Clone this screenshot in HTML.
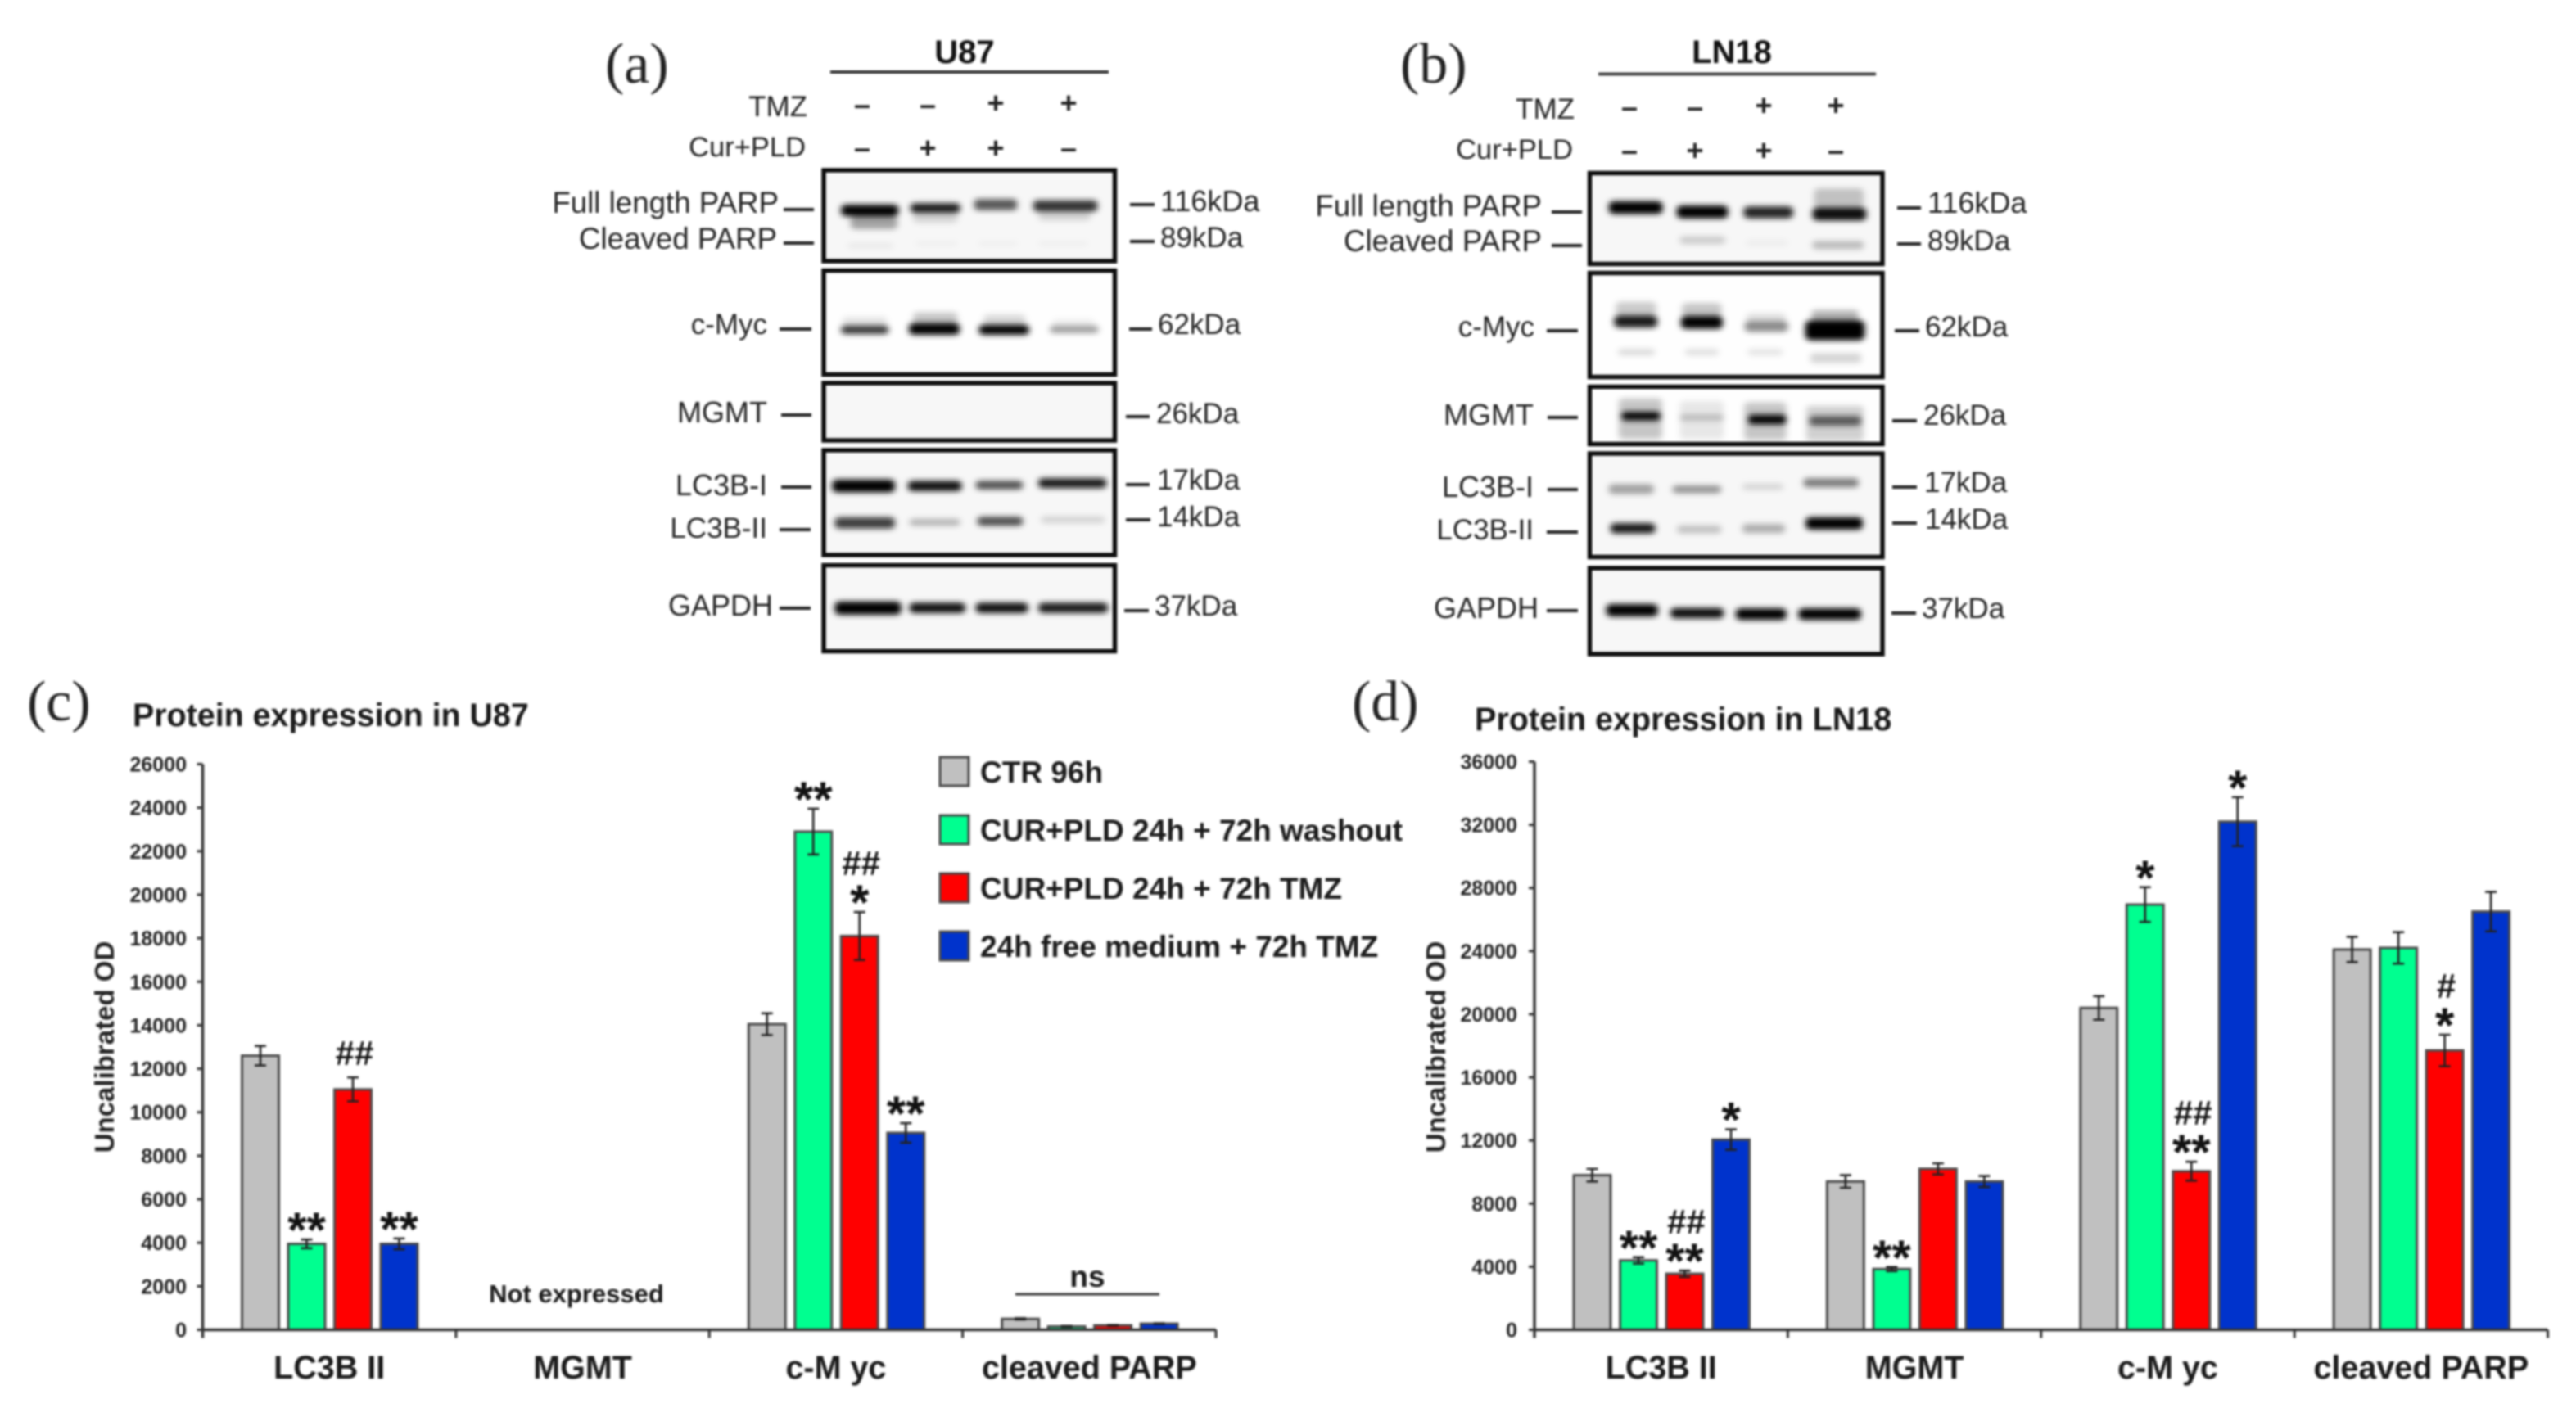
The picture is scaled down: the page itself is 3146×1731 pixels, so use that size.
<!DOCTYPE html>
<html lang="en">
<head>
<meta charset="utf-8">
<title>Protein expression in U87 and LN18</title>
<style>
html,body{margin:0;padding:0;background:#fff;}
#figure{display:block;width:3146px;height:1731px;filter:blur(1.25px);font-family:"Liberation Sans",Arial,sans-serif;}
.lbl{font-size:35px;fill:#222;}
.big{font-size:36.7px;}
.mid{font-size:36px;}
.sm{font-size:34.5px;}
.sign{font-size:36px;font-weight:bold;fill:#222;text-anchor:middle;}
.panel{font-family:"Liberation Serif",serif;font-size:70px;fill:#222;}
.head{font-size:40px;font-weight:bold;fill:#111;}
.tick{stroke:#222;stroke-width:4;}
.frame{fill:#f7f7f7;stroke:#0c0c0c;stroke-width:5.5;}
.white{fill:#fefefe;}
.e{fill:#000;}
</style>
</head>
<body>
<svg id="figure" xmlns="http://www.w3.org/2000/svg" width="3146" height="1731" viewBox="0 0 3146 1731">
<defs>
<filter id="bandBlur" x="-10%" y="-10%" width="120%" height="120%"><feGaussianBlur stdDeviation="6 6.5"/></filter>
</defs>
<rect x="0" y="0" width="3146" height="1731" fill="#fff"/>

<!-- PANEL A -->
<g>
<text class="panel" x="739" y="101">(a)</text>
<text class="head" x="1178" y="77" text-anchor="middle">U87</text>
<line x1="1014" y1="88" x2="1354" y2="88" stroke="#222" stroke-width="3.5"/>
<text class="lbl" x="986" y="142" text-anchor="end">TMZ</text>
<text class="lbl sm" x="984" y="191" text-anchor="end">Cur+PLD</text>
<text class="sign" x="1053" y="140">–</text>
<text class="sign" x="1133" y="140">–</text>
<text class="sign" x="1216" y="138">+</text>
<text class="sign" x="1305" y="138">+</text>
<text class="sign" x="1053" y="193">–</text>
<text class="sign" x="1133" y="193">+</text>
<text class="sign" x="1216" y="193">+</text>
<text class="sign" x="1305" y="193">–</text>

<rect class="frame" x="1006" y="208" width="355.5" height="111"/>
<rect class="frame white" x="1006" y="330.5" width="355.5" height="127"/>
<rect class="frame" x="1006" y="468" width="355.5" height="70"/>
<rect class="frame" x="1006" y="550" width="355.5" height="128"/>
<rect class="frame" x="1006" y="690.5" width="355.5" height="105"/>

<g transform="translate(640,0) scale(.6378,.523)" filter="url(#bandBlur)">
<rect class="e" x="607" y="478" width="110" height="27" rx="10" fill-opacity="1"/>
<rect class="e" x="625" y="505" width="90" height="30" rx="10" fill-opacity=".35"/>
<rect class="e" x="740" y="475" width="95" height="22" rx="8" fill-opacity=".9"/>
<rect class="e" x="745" y="497" width="85" height="23" rx="8" fill-opacity=".15"/>
<rect class="e" x="862" y="465" width="82" height="26" rx="8" fill-opacity=".65"/>
<rect class="e" x="975" y="468" width="123" height="26" rx="8" fill-opacity=".8"/>
<rect class="e" x="985" y="494" width="100" height="21" rx="8" fill-opacity=".15"/>
<rect class="e" x="620" y="568" width="87" height="12" rx="5" fill-opacity=".06"/>
<rect class="e" x="750" y="564" width="80" height="10" rx="5" fill-opacity=".04"/>
<rect class="e" x="870" y="564" width="75" height="10" rx="5" fill-opacity=".04"/>
<rect class="e" x="985" y="564" width="95" height="10" rx="5" fill-opacity=".04"/>

<rect class="e" x="607" y="761" width="91" height="19" rx="8" fill-opacity=".8"/>
<rect class="e" x="610" y="740" width="85" height="21" rx="8" fill-opacity=".1"/>
<rect class="e" x="737" y="755" width="97" height="27" rx="9" fill-opacity="1"/>
<rect class="e" x="745" y="730" width="85" height="25" rx="8" fill-opacity=".22"/>
<rect class="e" x="871" y="759" width="96" height="23" rx="9" fill-opacity="1"/>
<rect class="e" x="880" y="735" width="80" height="24" rx="8" fill-opacity=".15"/>
<rect class="e" x="1007" y="761" width="93" height="17" rx="7" fill-opacity=".38"/>
<rect class="e" x="1012" y="745" width="80" height="16" rx="7" fill-opacity=".06"/>

<rect class="e" x="590" y="1120" width="120" height="30" rx="10" fill-opacity="1"/>
<rect class="e" x="735" y="1123" width="103" height="24" rx="9" fill-opacity=".95"/>
<rect class="e" x="865" y="1123" width="90" height="20" rx="8" fill-opacity=".7"/>
<rect class="e" x="985" y="1117" width="130" height="23" rx="8" fill-opacity=".9"/>
<rect class="e" x="595" y="1208" width="115" height="27" rx="9" fill-opacity=".75"/>
<rect class="e" x="738" y="1212" width="97" height="16" rx="7" fill-opacity=".28"/>
<rect class="e" x="868" y="1207" width="87" height="21" rx="8" fill-opacity=".7"/>
<rect class="e" x="990" y="1206" width="122" height="16" rx="7" fill-opacity=".15"/>

<rect class="e" x="595" y="1405" width="127" height="31" rx="10" fill-opacity="1"/>
<rect class="e" x="738" y="1408" width="107" height="24" rx="9" fill-opacity=".95"/>
<rect class="e" x="865" y="1408" width="100" height="24" rx="9" fill-opacity=".95"/>
<rect class="e" x="985" y="1408" width="133" height="24" rx="9" fill-opacity=".9"/>
</g>

<text class="lbl big" x="951" y="260" text-anchor="end">Full length PARP</text>
<line class="tick" x1="957" y1="256" x2="994" y2="256"/>
<text class="lbl big" x="949" y="304" text-anchor="end">Cleaved PARP</text>
<line class="tick" x1="957" y1="297" x2="994" y2="297"/>
<text class="lbl" x="937" y="408" text-anchor="end">c-Myc</text>
<line class="tick" x1="952" y1="402" x2="991" y2="402"/>
<text class="lbl mid" x="937" y="516" text-anchor="end">MGMT</text>
<line class="tick" x1="954" y1="507" x2="991" y2="507"/>
<text class="lbl mid" x="937" y="605" text-anchor="end">LC3B-I</text>
<line class="tick" x1="954" y1="595" x2="991" y2="595"/>
<text class="lbl" x="937" y="657" text-anchor="end">LC3B-II</text>
<line class="tick" x1="952" y1="647" x2="990" y2="647"/>
<text class="lbl mid" x="944" y="752" text-anchor="end">GAPDH</text>
<line class="tick" x1="952" y1="743" x2="990" y2="743"/>

<line class="tick" x1="1380" y1="250" x2="1410" y2="250"/>
<text class="lbl mid" x="1417" y="258">116kDa</text>
<line class="tick" x1="1380" y1="295" x2="1410" y2="295"/>
<text class="lbl" x="1417" y="302">89kDa</text>
<line class="tick" x1="1379" y1="402" x2="1407" y2="402"/>
<text class="lbl" x="1414" y="408">62kDa</text>
<line class="tick" x1="1375" y1="509" x2="1404" y2="509"/>
<text class="lbl" x="1412" y="517">26kDa</text>
<line class="tick" x1="1375" y1="592" x2="1404" y2="592"/>
<text class="lbl" x="1413" y="598">17kDa</text>
<line class="tick" x1="1375" y1="635" x2="1405" y2="635"/>
<text class="lbl" x="1413" y="643">14kDa</text>
<line class="tick" x1="1373" y1="746" x2="1403" y2="746"/>
<text class="lbl" x="1410" y="752">37kDa</text>
</g>

<!-- PANEL B -->
<g>
<text class="panel" x="1710" y="101">(b)</text>
<text class="head" x="2115" y="77" text-anchor="middle">LN18</text>
<line x1="1952" y1="90.5" x2="2291" y2="90.5" stroke="#222" stroke-width="3.5"/>
<text class="lbl" x="1923" y="145" text-anchor="end">TMZ</text>
<text class="lbl sm" x="1921" y="194" text-anchor="end">Cur+PLD</text>
<text class="sign" x="1990" y="143">–</text>
<text class="sign" x="2070" y="143">–</text>
<text class="sign" x="2154" y="141">+</text>
<text class="sign" x="2242" y="141">+</text>
<text class="sign" x="1990" y="196">–</text>
<text class="sign" x="2070" y="196">+</text>
<text class="sign" x="2154" y="196">+</text>
<text class="sign" x="2242" y="196">–</text>

<rect class="frame" x="1941.5" y="211.5" width="357.5" height="111"/>
<rect class="frame white" x="1941.5" y="333.5" width="357.5" height="127"/>
<rect class="frame white" x="1941.5" y="472.5" width="357.5" height="70"/>
<rect class="frame" x="1941.5" y="554" width="357.5" height="126.5"/>
<rect class="frame" x="1941.5" y="694" width="357.5" height="105"/>

<g transform="translate(1600,0) scale(.6378,.523)" filter="url(#bandBlur)">
<rect class="e" x="572" y="470" width="103" height="30" rx="10" fill-opacity="1"/>
<rect class="e" x="702" y="480" width="98" height="30" rx="10" fill-opacity="1"/>
<rect class="e" x="830" y="482" width="95" height="28" rx="10" fill-opacity=".85"/>
<rect class="e" x="962" y="485" width="103" height="30" rx="10" fill-opacity=".95"/>
<rect class="e" x="965" y="440" width="95" height="45" rx="10" fill-opacity=".22"/>
<rect class="e" x="708" y="552" width="87" height="18" rx="7" fill-opacity=".18"/>
<rect class="e" x="835" y="560" width="80" height="15" rx="7" fill-opacity=".04"/>
<rect class="e" x="962" y="563" width="98" height="19" rx="7" fill-opacity=".25"/>

<rect class="e" x="582" y="737" width="83" height="28" rx="10" fill-opacity=".9"/>
<rect class="e" x="585" y="705" width="78" height="32" rx="10" fill-opacity=".2"/>
<rect class="e" x="710" y="738" width="80" height="30" rx="10" fill-opacity="1"/>
<rect class="e" x="712" y="708" width="76" height="30" rx="10" fill-opacity=".22"/>
<rect class="e" x="832" y="750" width="83" height="25" rx="9" fill-opacity=".45"/>
<rect class="e" x="835" y="732" width="76" height="18" rx="8" fill-opacity=".12"/>
<rect class="e" x="948" y="748" width="114" height="47" rx="12" fill-opacity="1"/>
<rect class="e" x="960" y="725" width="90" height="23" rx="8" fill-opacity=".3"/>
<rect class="e" x="590" y="815" width="70" height="15" rx="6" fill-opacity=".14"/>
<rect class="e" x="718" y="815" width="64" height="15" rx="6" fill-opacity=".12"/>
<rect class="e" x="838" y="815" width="67" height="15" rx="6" fill-opacity=".1"/>
<rect class="e" x="958" y="825" width="97" height="23" rx="6" fill-opacity=".16"/>

<rect class="e" x="591" y="931" width="83" height="95" rx="8" fill-opacity=".22"/>
<rect class="e" x="596" y="962" width="75" height="20" rx="8" fill-opacity="1"/>
<rect class="e" x="708" y="937" width="84" height="89" rx="8" fill-opacity=".09"/>
<rect class="e" x="708" y="969" width="84" height="13" rx="6" fill-opacity=".22"/>
<rect class="e" x="831" y="940" width="81" height="88" rx="8" fill-opacity=".22"/>
<rect class="e" x="839" y="969" width="73" height="22" rx="8" fill-opacity="1"/>
<rect class="e" x="950" y="948" width="110" height="82" rx="8" fill-opacity=".18"/>
<rect class="e" x="956" y="972" width="99" height="22" rx="8" fill-opacity=".6"/>

<rect class="e" x="572" y="1131" width="86" height="23" rx="8" fill-opacity=".35"/>
<rect class="e" x="694" y="1134" width="93" height="18" rx="8" fill-opacity=".42"/>
<rect class="e" x="828" y="1130" width="78" height="14" rx="6" fill-opacity=".15"/>
<rect class="e" x="945" y="1117" width="105" height="21" rx="7" fill-opacity=".5"/>
<rect class="e" x="575" y="1222" width="86" height="24" rx="9" fill-opacity=".9"/>
<rect class="e" x="703" y="1227" width="84" height="19" rx="7" fill-opacity=".22"/>
<rect class="e" x="828" y="1224" width="81" height="21" rx="7" fill-opacity=".3"/>
<rect class="e" x="949" y="1208" width="109" height="29" rx="9" fill-opacity="1"/>

<rect class="e" x="567" y="1411" width="99" height="29" rx="10" fill-opacity="1"/>
<rect class="e" x="690" y="1420" width="102" height="24" rx="9" fill-opacity=".95"/>
<rect class="e" x="815" y="1421" width="97" height="27" rx="10" fill-opacity="1"/>
<rect class="e" x="935" y="1421" width="120" height="27" rx="10" fill-opacity="1"/>
</g>

<text class="lbl big" x="1883" y="264" text-anchor="end">Full length PARP</text>
<line class="tick" x1="1895" y1="259" x2="1932" y2="259"/>
<text class="lbl big" x="1883" y="307" text-anchor="end">Cleaved PARP</text>
<line class="tick" x1="1895" y1="300" x2="1932" y2="300"/>
<text class="lbl" x="1874" y="411" text-anchor="end">c-Myc</text>
<line class="tick" x1="1889" y1="404" x2="1927" y2="404"/>
<text class="lbl mid" x="1873" y="519" text-anchor="end">MGMT</text>
<line class="tick" x1="1890" y1="510" x2="1927" y2="510"/>
<text class="lbl mid" x="1873" y="607" text-anchor="end">LC3B-I</text>
<line class="tick" x1="1890" y1="598" x2="1927" y2="598"/>
<text class="lbl" x="1873" y="659" text-anchor="end">LC3B-II</text>
<line class="tick" x1="1889" y1="650" x2="1927" y2="650"/>
<text class="lbl mid" x="1879" y="755" text-anchor="end">GAPDH</text>
<line class="tick" x1="1889" y1="746" x2="1927" y2="746"/>

<line class="tick" x1="2317" y1="254" x2="2346" y2="254"/>
<text class="lbl mid" x="2354" y="260">116kDa</text>
<line class="tick" x1="2317" y1="298" x2="2346" y2="298"/>
<text class="lbl" x="2354" y="306">89kDa</text>
<line class="tick" x1="2314" y1="404" x2="2344" y2="404"/>
<text class="lbl" x="2351" y="411">62kDa</text>
<line class="tick" x1="2311" y1="514" x2="2341" y2="514"/>
<text class="lbl" x="2349" y="519">26kDa</text>
<line class="tick" x1="2311" y1="595" x2="2341" y2="595"/>
<text class="lbl" x="2350" y="601">17kDa</text>
<line class="tick" x1="2311" y1="639" x2="2341" y2="639"/>
<text class="lbl" x="2351" y="646">14kDa</text>
<line class="tick" x1="2310" y1="749" x2="2340" y2="749"/>
<text class="lbl" x="2347" y="755">37kDa</text>
</g>

<text class="panel" x="33" y="880">(c)</text>
<text class="panel" x="1651" y="880">(d)</text>
<text x="162" y="887" font-size="39.4" font-weight="bold" fill="#1a1a1a">Protein expression in U87</text>
<text x="1801" y="892" font-size="39.5" font-weight="bold" fill="#1a1a1a">Protein expression in LN18</text>
<g id="chartC"></g>
<g id="chartD"></g>
<g id="legend"></g>
<g>
<text x="1328" y="1572" font-size="37" font-weight="bold" fill="#1a1a1a" text-anchor="middle">ns</text>
<line x1="1240" y1="1581" x2="1416" y2="1581" stroke="#333" stroke-width="3"/>
</g>
<text x="704" y="1591" font-size="31" font-weight="bold" fill="#1a1a1a" text-anchor="middle">Not expressed</text>
</svg>

<script>
const categoriesC = ["LC3B II", "MGMT", "c-M yc", "cleaved PARP"];
const categoriesD = ["LC3B II", "MGMT", "c-M yc", "cleaved PARP"];
const seriesNames = ["CTR 96h", "CUR+PLD 24h + 72h washout", "CUR+PLD 24h + 72h TMZ", "24h free medium + 72h TMZ"];
const ticksC = [0, 2000, 4000, 6000, 8000, 10000, 12000, 14000, 16000, 18000, 20000, 22000, 24000, 26000];
const ticksD = [0, 4000, 8000, 12000, 16000, 20000, 24000, 28000, 32000, 36000];

const ctrC = [12600, null, 14050, 500];
const washoutC = [3950, null, 22900, 150];
const tmzCombC = [11050, null, 18100, 200];
const freeTmzC = [3950, null, 9050, 280];
const ctrErrC = [450, 0, 500, 30];
const washoutErrC = [200, 0, 1050, 20];
const tmzCombErrC = [550, 0, 1100, 20];
const freeTmzErrC = [250, 0, 450, 20];
const ctrSigC = [[], [], [], []];
const washoutSigC = [["**"], [], ["**"], []];
const tmzCombSigC = [["##"], [], ["*", "##"], []];
const freeTmzSigC = [["**"], [], ["**"], []];

const ctrD = [9800, 9400, 20400, 24100];
const washoutD = [4400, 3850, 26950, 24200];
const tmzCombD = [3550, 10200, 10050, 17700];
const freeTmzD = [12050, 9400, 32200, 26500];
const ctrErrD = [400, 400, 750, 800];
const washoutErrD = [200, 130, 1100, 1000];
const tmzCombErrD = [200, 350, 600, 1000];
const freeTmzErrD = [650, 350, 1550, 1250];
const ctrSigD = [[], [], [], []];
const washoutSigD = [["**"], ["**"], ["*"], []];
const tmzCombSigD = [["**", "##"], [], ["**", "##"], ["*", "#"]];
const freeTmzSigD = [["*"], [], ["*"], []];

const SVGNS = "http://www.w3.org/2000/svg";
const seriesColors = ["#c0c0c0", "#00ff90", "#ff0000", "#0033cc"];
const seriesKeys = ["ctr", "washout", "tmz-combo", "free-tmz"];

function make(parent, tag, attrs, txt) {
  const n = document.createElementNS(SVGNS, tag);
  for (const k in attrs) n.setAttribute(k, attrs[k]);
  if (txt !== undefined) n.textContent = txt;
  parent.appendChild(n);
  return n;
}

function drawChart(cfg) {
  const root = document.getElementById(cfg.id);
  const y = v => cfg.y0 - (v / cfg.max) * (cfg.y0 - cfg.yTop);
  const groupW = (cfg.x1 - cfg.x0) / cfg.categories.length;
  const barW = 45, step = 56.5, inset = 48;

  cfg.series.forEach((vals, s) => {
    vals.forEach((v, c) => {
      if (v === null) return;
      const x = cfg.x0 + c * groupW + inset + s * step;
      const bar = make(root, "rect", {x: x, y: y(v), width: barW, height: cfg.y0 - y(v), fill: seriesColors[s], stroke: "#4a4a4a", "stroke-width": 3});
      
      
      const e = cfg.errors[s][c];
      const cx = x + barW / 2;
      const err = make(root, "path", {d: "M" + (cx - 7) + " " + y(v + e) + "H" + (cx + 7) + "M" + cx + " " + y(v + e) + "V" + y(v - e) + "M" + (cx - 7) + " " + y(v - e) + "H" + (cx + 7), fill: "none", stroke: "#222", "stroke-width": 2.6});
      
      
      let cy = y(v + e);
      cfg.sigs[s][c].forEach((mark, i) => {
        const hash = mark[0] === "#";
        cy -= i === 0 ? (hash ? 30 : 21) : 39;
        const t = make(root, "text", {x: cx + (hash ? 2 : 0), y: cy + (hash ? 15 : 30), "font-size": hash ? 42 : 60, "font-weight": "bold", fill: "#111", "text-anchor": "middle"}, mark);
        
        
      });
    });
  });

  const yAxis = make(root, "line", {x1: cfg.x0, y1: cfg.yTop, x2: cfg.x0, y2: cfg.y0 + 10, stroke: "#333", "stroke-width": 3.5});
  
  
  const xAxis = make(root, "line", {x1: cfg.x0, y1: cfg.y0, x2: cfg.x1, y2: cfg.y0, stroke: "#333", "stroke-width": 3.5});
  
  

  cfg.ticks.forEach(v => {
    const tk = make(root, "line", {x1: cfg.x0 - 7, y1: y(v), x2: cfg.x0, y2: y(v), stroke: "#333", "stroke-width": 3});
    
    
    const lb = make(root, "text", {x: cfg.labelRight, y: y(v) + 9, "font-size": 25, "font-weight": "bold", fill: "#222", "text-anchor": "end"}, String(v));
    
    
  });

  cfg.categories.forEach((name, c) => {
    const xt = cfg.x0 + (c + 1) * groupW;
    const tk = make(root, "line", {x1: xt, y1: cfg.y0, x2: xt, y2: cfg.y0 + 10, stroke: "#333", "stroke-width": 3});
    
    
    const lb = make(root, "text", {x: cfg.x0 + (c + .5) * groupW, y: 1684, "font-size": 39.5, "font-weight": "bold", fill: "#1a1a1a", "text-anchor": "middle"}, name);
    
    
  });

  const cyT = 1279;
  const title = make(root, "text", {x: cfg.titleX, y: cyT, "font-size": 33, "font-weight": "bold", fill: "#222", "text-anchor": "middle", transform: "rotate(-90 " + cfg.titleX + " " + cyT + ")"}, "Uncalibrated OD");
  
  
}

drawChart({
  id: "chartC", categories: categoriesC, ticks: ticksC, max: 26000,
  series: [ctrC, washoutC, tmzCombC, freeTmzC],
  errors: [ctrErrC, washoutErrC, tmzCombErrC, freeTmzErrC],
  sigs: [ctrSigC, washoutSigC, tmzCombSigC, freeTmzSigC],
  x0: 247.5, x1: 1485, y0: 1624.5, yTop: 933.5, labelRight: 228, titleX: 139
});
drawChart({
  id: "chartD", categories: categoriesD, ticks: ticksD, max: 36000,
  series: [ctrD, washoutD, tmzCombD, freeTmzD],
  errors: [ctrErrD, washoutErrD, tmzCombErrD, freeTmzErrD],
  sigs: [ctrSigD, washoutSigD, tmzCombSigD, freeTmzSigD],
  x0: 1874, x1: 3111.5, y0: 1624.5, yTop: 930.5, labelRight: 1853, titleX: 1765
});

const legendRoot = document.getElementById("legend");
seriesNames.forEach((name, i) => {
  const top = 925 + i * 71;
  const sw = make(legendRoot, "rect", {x: 1148, y: top, width: 35, height: 35, fill: seriesColors[i], stroke: "#4a4a4a", "stroke-width": 3});
  
  
  const t = make(legendRoot, "text", {x: 1197, y: top + 31, "font-size": 37, "font-weight": "bold", fill: "#1a1a1a"}, name);
  
  
});
</script>
</body>
</html>
